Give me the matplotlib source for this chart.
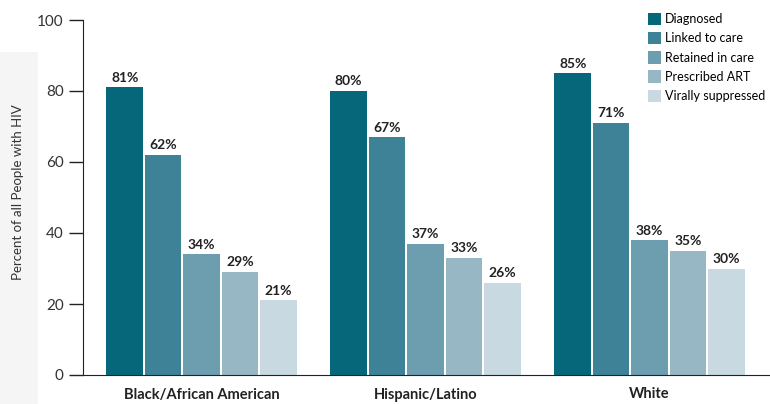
import numpy as np
import matplotlib.pyplot as plt
from matplotlib.patches import Rectangle

groups = ['Black/African American', 'Hispanic/Latino', 'White']
stages = ['Diagnosed', 'Linked to care', 'Retained in care', 'Prescribed ART', 'Virally suppressed']
diagnosed = [81, 80, 85]
linked = [62, 67, 71]
retained = [34, 37, 38]
prescribed = [29, 33, 35]
suppressed = [21, 26, 30]
colors = ['#06677a', '#3e8298', '#6c9eb0', '#98b7c5', '#c8d9e2']

plt.rcParams['font.family'] = ['Lato', 'DejaVu Sans']

fig = plt.figure(figsize=(7.7, 4.04), dpi=100)
# light grey strip behind the y label
fig.patches.append(Rectangle((0, 0), 38 / 770, (404 - 52) / 404, transform=fig.transFigure,
                             facecolor='#f5f5f5', edgecolor='none', zorder=0))
ax = fig.add_axes([83 / 770, 29 / 404, 687 / 770, 355 / 404])
ax.patch.set_alpha(0)

x = np.arange(len(groups))
pitch = 0.1714
width = 0.163
series = [diagnosed, linked, retained, prescribed, suppressed]
for i, (vals, c, name) in enumerate(zip(series, colors, stages)):
    pos = x + (i - 2) * pitch
    ax.bar(pos, vals, width, color=c, label=name)
    for p, v in zip(pos, vals):
        ax.text(p, v + 1.0, f'{v}%', ha='center', va='bottom', fontsize=10,
                fontweight='bold', color='#222222')

ax.set_xlim(-0.529, 2.538)
ax.set_ylim(0, 100)
ax.set_yticks([0, 20, 40, 60, 80, 100])
ax.tick_params(axis='y', length=10, width=1, labelsize=11, color='#222222', labelcolor='#333333', pad=4)
ax.set_xticks(x)
ax.set_xticklabels(groups, fontsize=10.5, fontweight='bold', color='#222222')
ax.tick_params(axis='x', length=0, pad=9)
for s in ['top', 'right']:
    ax.spines[s].set_visible(False)
ax.spines['left'].set_color('#222222')
ax.spines['bottom'].set_color('#222222')

fig.text(18 / 770, 0.5 + 10 / 404, 'Percent of all People with HIV', rotation=90,
         ha='center', va='center', fontsize=9.5, color='#333333')

ax.legend(loc='upper left', bbox_to_anchor=(640 / 770, 1.0 - 5 / 404), bbox_transform=fig.transFigure,
          frameon=False, fontsize=9, handlelength=1.05, handleheight=1.15,
          handletextpad=0.35, labelspacing=0.55, borderaxespad=0.2)

fig.savefig('out.png', dpi=100)
